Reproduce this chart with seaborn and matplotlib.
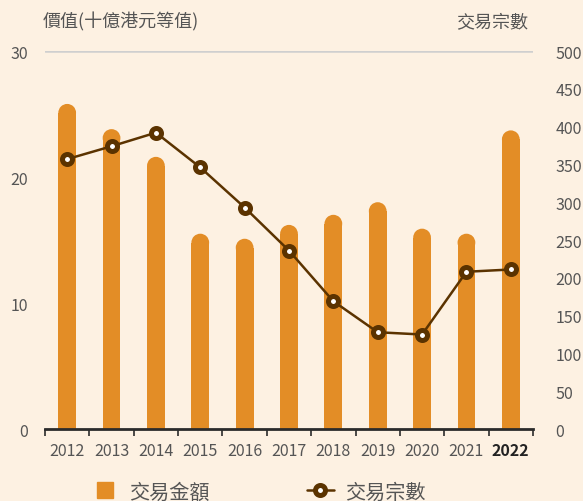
import numpy as np
import matplotlib.pyplot as plt
import seaborn as sns
from matplotlib.patches import Ellipse
from matplotlib.lines import Line2D

years = ["2012", "2013", "2014", "2015", "2016", "2017",
         "2018", "2019", "2020", "2021", "2022"]
value_bn = [25.8, 23.8, 21.6, 15.5, 15.1, 16.2, 17.0, 18.0, 15.9, 15.5, 23.7]
deal_count = [357, 374, 392, 346, 293, 236, 169, 128, 125, 208, 211]

bg = "#FDF1E2"
bar_c = "#E38D26"
line_c = "#5B3300"
txt = "#555555"

sns.set_theme(style="white")
plt.rcParams["font.family"] = ["Noto Sans CJK TC", "DejaVu Sans"]
plt.rcParams["font.weight"] = 300

fig = plt.figure(figsize=(5.83, 5.02), dpi=100, facecolor=bg)
ax = fig.add_axes([0.0772, 0.1434, 0.837, 0.7530])
ax.set_facecolor(bg)

sns.barplot(x=years, y=value_bn, color=bar_c, width=0.4, saturation=1,
            linewidth=0, ax=ax)
ax.set_xlim(-0.5, 10.5)
ax.set_ylim(0, 30)

# rounded tops on the bars
for p in ax.patches:
    x, w, h = p.get_x(), p.get_width(), p.get_height()
    w_px = ax.transData.transform((w, 0))[0] - ax.transData.transform((0, 0))[0]
    py = ax.transData.transform((0, 1))[1] - ax.transData.transform((0, 0))[1]
    r = (w_px / 2) / py
    p.set_height(h - r)
    ax.add_patch(Ellipse((x + w / 2, h - r), w, 2 * r, color=bar_c, lw=0))

ax.axhline(30, color="#CFCFCF", lw=1.8, zorder=0)

ax2 = ax.twinx()
sns.lineplot(x=np.arange(len(years)), y=deal_count, ax=ax2, color=line_c,
             lw=1.8, marker="o", ms=7.2, mfc="white", mec=line_c, mew=3.6)
ax2.set_ylim(0, 500)
ax2.set_xlim(-0.5, 10.5)

for a in (ax, ax2):
    for s in ["top", "left", "right"]:
        a.spines[s].set_visible(False)
ax2.spines["bottom"].set_visible(False)
ax.spines["bottom"].set_color("#2B2B2B")
ax.spines["bottom"].set_linewidth(2)

ax.set_xticks(range(len(years)))
ax.set_xticklabels(years)
ax.set_xticks(np.arange(-0.5, len(years)), minor=True)
ax.tick_params(axis="x", which="major", length=0, pad=9, labelsize=11.5, labelcolor=txt)
ax.tick_params(axis="x", which="minor", length=5, width=1.2, color="#2B2B2B",
               direction="out", bottom=True)
ax.get_xticklabels()[-1].set_fontweight("bold")
ax.get_xticklabels()[-1].set_color("#222222")

ax.set_yticks([0, 10, 20, 30])
ax.tick_params(axis="y", length=0, pad=12, labelsize=11.5, labelcolor=txt)
ax2.set_yticks(range(0, 501, 50))
ax2.tick_params(axis="y", length=0, pad=16, labelsize=11.5, labelcolor=txt)
ax.set_xlabel("")
ax.set_ylabel("")
ax2.set_ylabel("")

fig.text(43 / 583, 1 - 22 / 502, "價值(十億港元等值)", ha="left", va="center",
         fontsize=13, color=txt)
fig.text(528 / 583, 1 - 22 / 502, "交易宗數", ha="right", va="center",
         fontsize=13, color=txt)

handles = [
    Line2D([], [], marker="s", color=bar_c, linestyle="", markersize=11),
    Line2D([], [], color=line_c, lw=1.8, marker="o", ms=7.2, mfc="white",
           mec=line_c, mew=3.6),
]
fig.legend(handles, ["交易金額", "交易宗數"], ncol=2, loc="center",
           bbox_to_anchor=(0.443, 1 - 493 / 502), frameon=False,
           fontsize=14.5, labelcolor=txt, columnspacing=4.8, handlelength=1.35,
           handletextpad=0.55)

fig.savefig("out.png", dpi=100, facecolor=bg)
